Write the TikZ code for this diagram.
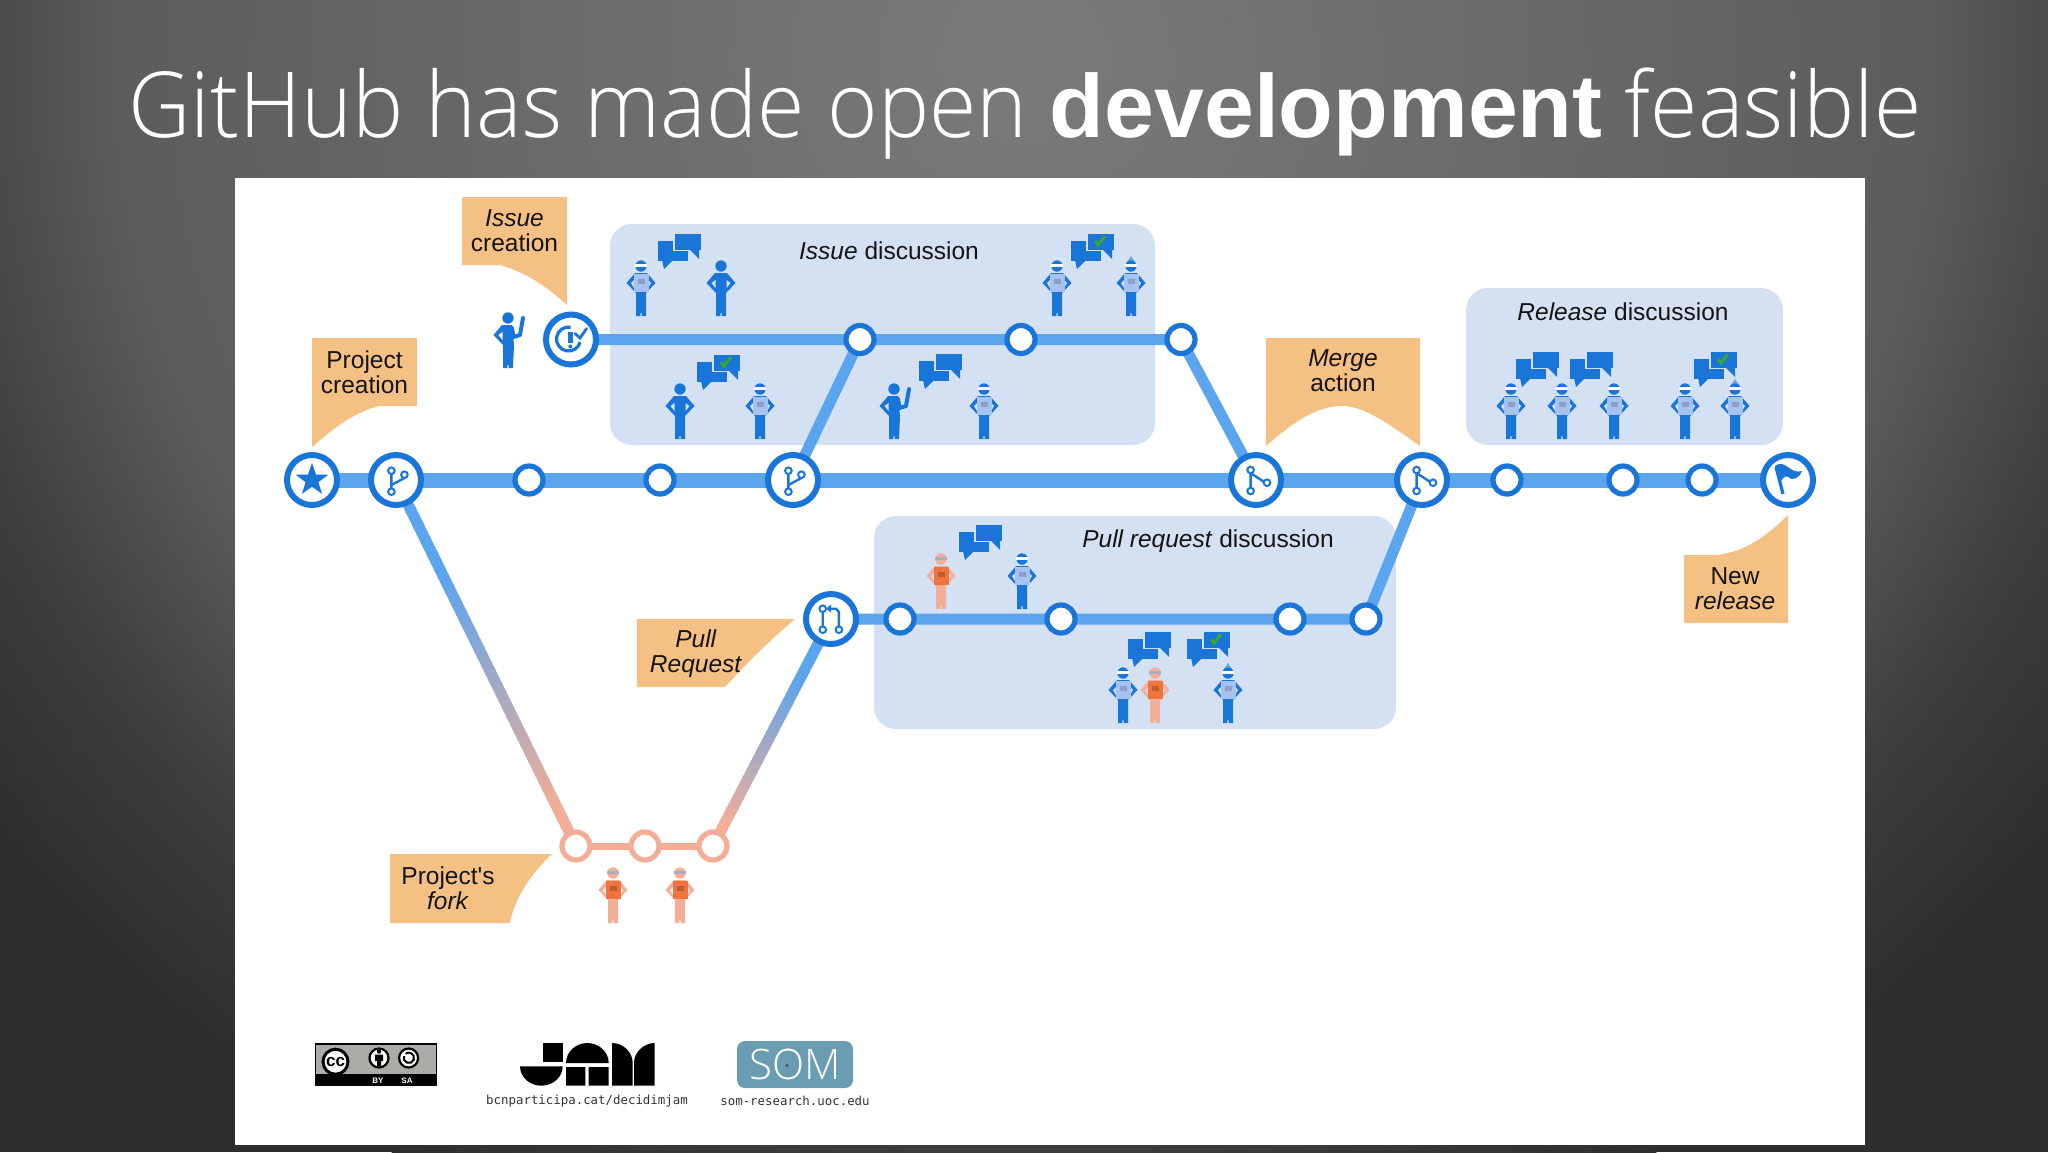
\documentclass[tikz,border=0pt]{standalone}
\usepackage{fontspec}
\setmainfont{Liberation Sans}[Ligatures=TeXOff]
\newfontfamily\lightfont{Open Sans Light}
\newfontfamily\titlelight{Open Sans Light}[FakeStretch=0.947]
\newfontfamily\titlebold{Liberation Sans Bold}
\setmonofont{DejaVu Sans Mono}
\usetikzlibrary{calc,shapes.geometric}
\pgfdeclarelayer{under}\pgfdeclarelayer{lines}\pgfsetlayers{under,lines,main}
\definecolor{ringblue}{HTML}{1976D8}
\definecolor{lineblue}{HTML}{5BA4EE}
\definecolor{salmon}{HTML}{F4AE97}
\definecolor{boxfill}{HTML}{D4E1F3}
\definecolor{calloutc}{HTML}{F5C083}
\definecolor{okgreen}{HTML}{3DA62E}
\definecolor{vestblue}{HTML}{A6C2F0}
\definecolor{vestmark}{HTML}{8C9FC8}
\definecolor{vestorange}{HTML}{EE7440}
\definecolor{orangemark}{HTML}{BE5C30}
\definecolor{ccgrey}{HTML}{AAACA7}
\definecolor{somteal}{HTML}{6A9DB2}
\colorlet{limbc}{ringblue}\colorlet{torsoc}{white}\colorlet{headc}{ringblue}\colorlet{gogc}{white}\colorlet{gapc}{boxfill}\colorlet{markc}{gray}
\pgfdeclareradialshading{slidebg}{\pgfpointorigin}{rgb(0bp)=(.48,.48,.48);rgb(17.5bp)=(.36,.36,.36);rgb(21.5bp)=(.24,.24,.24);rgb(25bp)=(.18,.18,.18);rgb(50bp)=(.18,.18,.18)}
\tikzset{
 bigring/.style={circle,draw=ringblue,fill=white,line width=3pt,minimum size=25pt,inner sep=0pt},
 smallring/.style={circle,draw=ringblue,fill=white,line width=2.6pt,minimum size=14pt,inner sep=0pt},
 forkring/.style={circle,draw=salmon,fill=white,line width=2.6pt,minimum size=14pt,inner sep=0pt},
 mainline/.style={draw=lineblue,line width=7.5pt},
 subline/.style={draw=lineblue,line width=5.5pt},
 forkline/.style={draw=salmon,line width=3.5pt},
 discbox/.style={fill=boxfill,rounded corners=11pt,inner sep=0pt},
 calloutfill/.style={fill=calloutc},
 label/.style={font=\fontsize{12.25pt}{12.6pt}\selectfont,align=center,text=black!92,inner sep=0pt},
 monolabel/.style={font=\ttfamily\fontsize{6.2pt}{7pt}\selectfont,text=black!80,inner sep=0pt},
 icon/.style={draw=ringblue,line width=1.2pt,line cap=round},
 bluebot/.code={\colorlet{limbc}{ringblue}\colorlet{torsoc}{vestblue}\colorlet{headc}{ringblue}\colorlet{gogc}{white}\colorlet{gapc}{boxfill}\colorlet{markc}{vestmark}},
 orangebot/.code={\colorlet{limbc}{salmon}\colorlet{torsoc}{vestorange}\colorlet{headc}{salmon}\colorlet{gogc}{gray!50!boxfill}\colorlet{gapc}{boxfill}\colorlet{markc}{orangemark}},
 onwhite/.code={\colorlet{gapc}{white}},
 bodyfig/.pic={
  \fill[limbc] (-6,-43)--(6,-43)--(14.5,-33)--(5,-23)--(5,0)--(.7,0)--(.7,-3)--(-.7,-3)--(-.7,0)--(-5,0)--(-5,-23)--(-14.5,-33)--cycle;
  \fill[gapc] (-5.5,-36)--(-9.5,-33)--(-5.5,-28)--cycle (5.5,-36)--(9.5,-33)--(5.5,-28)--cycle;
  \fill[limbc] (0,-50) circle (5.7);
 },
 bot/.pic={
  \fill[limbc] (-6,-43)--(6,-43)--(14.5,-33)--(5,-23)--(5,0)--(.7,0)--(.7,-3)--(-.7,-3)--(-.7,0)--(-5,0)--(-5,-23)--(-14.5,-33)--cycle;
  \fill[gapc] (-7,-36)--(-10,-33)--(-7,-28)--cycle (7,-36)--(10,-33)--(7,-28)--cycle;
  \fill[torsoc] (-7.5,-42) rectangle (7.5,-24);
  \fill[markc] (-3.5,-37) rectangle (3.5,-32);
  \fill[headc] (0,-50) circle (5.7);
  \fill[gogc] (-5.6,-52) rectangle (5.6,-48.8);
 },
 hatbot/.pic={
  \fill[ringblue!55!boxfill] (-4,-54)--(0,-60)--(4,-54)--cycle;
  \pic {bot};
 },
 pointer/.pic={
  \fill[ringblue] (-6,-43)--(4,-43)--(6,-23)--(5,0)--(.7,0)--(.7,-3)--(-.7,-3)--(-.7,0)--(-5,0)--(-5,-23)--(-14.5,-33)--cycle;
  \fill[gapc] (-5.5,-36)--(-9.5,-33)--(-5.5,-28)--cycle;
  \draw[ringblue,line width=2pt,line join=round,line cap=round] (4,-40)--(5.5,-31)--(12,-33)--(15,-50);
  \fill[ringblue] (0,-50) circle (5.7);
 },
 talk/.pic={
  \fill[ringblue] (0,8.3) rectangle (29.5,28.3);
  \fill[ringblue] (4,27)--(6,36)--(15,27)--cycle;
  \draw[boxfill,line width=.8pt,fill=ringblue] (15.7,0) rectangle (44,17.3);
  \fill[ringblue] (32,17)--(41,26)--(41,17)--cycle;
 },
 talkok/.pic={
  \pic {talk};
  \draw[okgreen,line width=1.5pt] (24,8)--(27,12)--(34,3);
 },
 forkglyph/.pic={
  \draw[icon] (-4.6,-6)--(-4.6,8.5) (8.4,-2)--(-4.6,5);
  \draw[icon,line width=1pt,fill=white] (-4.6,-9.3) circle (3.3) (8.4,-5.3) circle (3.3) (-4.6,11.7) circle (3.3);
 },
 mergeglyph/.pic={
  \draw[icon] (-5.4,-6.5)--(-5.4,8) (-4,-6)--(8,1.8);
  \draw[icon,line width=1pt,fill=white] (-5.4,-10) circle (3.3) (11,2.7) circle (3.3) (-5.4,11) circle (3.3);
 },
 prglyph/.pic={
  \draw[icon] (-8.3,-7)--(-8.3,7.5) (7.9,7.5)--(7.9,-7)--(5,-10.3)--(-2,-10.3);
  \fill[ringblue] (-5,-10.3)--(0,-14.5)--(0,-6.5)--cycle;
  \draw[icon,line width=1pt,fill=white] (-8.3,-10.3) circle (3.3) (-8.3,10.7) circle (3.3) (7.9,10.7) circle (3.3);
 },
 issueglyph/.pic={
  \draw[icon,line width=1.6pt,line cap=butt] (-.4,-12.3) arc[start angle=-80,end angle=-345,radius=12];
  \draw[ringblue,line width=2.2pt] (-.7,-7.5)--(-.7,3);
  \fill[ringblue] (-.7,7) circle (2);
  \draw[icon,line width=1.4pt] (4,-6)--(9,-1.5)--(15.6,-11);
 },
 flagglyph/.pic={
  \draw[ringblue,line width=1.6pt] (-12,-13)--(-5,14);
  \fill[ringblue] (-13,-14) .. controls (-3,-22) and (2,-5) .. (14,-9) .. controls (11,-1) and (4,1) .. (0,-3) .. controls (-2,-5) and (-6,-2) .. (-8,3) -- cycle;
 },
}
\begin{document}
\begin{tikzpicture}[x=.5pt,y=-.5pt]
\useasboundingbox (0,0) rectangle (2048,1152);
\begin{pgfonlayer}{under}
\begin{scope}
 \clip (0,0) rectangle (2048,1152);
 \fill[black!82] (0,0) rectangle (2048,1152);
 \shade[shading=slidebg] (1024,60) ellipse [x radius=1300,y radius=1250];
\end{scope}
\fill[white] (235,178) rectangle (1865,1145);
\node (issuebox) [discbox,minimum width=272.5pt,minimum height=110.5pt] at (882.5,334.5) {};
\node (releasebox) [discbox,minimum width=158.5pt,minimum height=78.5pt] at (1624.5,366.5) {};
\node (prbox) [discbox,minimum width=261pt,minimum height=106.5pt] at (1135,622.5) {};
\end{pgfonlayer}

\node (title) [text=white,inner sep=0pt,anchor=base,font=\titlelight\fontsize{45.5pt}{50pt}\selectfont] at (1025,137) {GitHub has made open {\titlebold\fontsize{44.8pt}{50pt}\selectfont development} feasible};

% callouts
\fill[calloutfill] (462,197)--(567,197)--(567,305) .. controls (545,285) and (525,272) .. (500,265) -- (462,265) -- cycle;
\fill[calloutfill] (312,338)--(417,338)--(417,406)--(379,406) .. controls (355,412) and (335,427) .. (312,447) -- cycle;
\fill[calloutfill] (1266,338)--(1420,338)--(1420,446) .. controls (1390,425) and (1365,406) .. (1342,406) .. controls (1318,406) and (1295,420) .. (1266,446) -- cycle;
\fill[calloutfill] (1684,555)--(1717,555) .. controls (1745,552) and (1768,535) .. (1788,515) -- (1788,623) -- (1684,623) -- cycle;
\fill[calloutfill] (637,619)--(795,619) .. controls (770,640) and (745,665) .. (725,687) -- (637,687) -- cycle;
\fill[calloutfill] (390,854)--(552,854) .. controls (535,870) and (515,895) .. (510,923) -- (390,923) -- cycle;
\node (lblissue) [label] at (514.5,231) {\textit{Issue}\\creation};
\node (lblproject) [label] at (364.5,372) {Project\\creation};
\node (lblmerge) [label] at (1343,371) {\textit{Merge}\\action};
\node (lblrelease) [label] at (1735,589) {New\\\textit{release}};
\node (lblpr) [label] at (696,654) {\textit{Pull}\\\textit{Request}};
\node (lblfork) [label] at (448,888) {Project's\\\textit{fork}};
\node (issuetitle) [label] at (889,251) {\textit{Issue} discussion};
\node (releasetitle) [label] at (1623,312) {\textit{Release} discussion};
\node (prtitle) [label] at (1208,541) {\textit{Pull request} discussion};

% timeline nodes
\node (nstar) [bigring] at (312,480) {};
\node (nfork) [bigring] at (396,480) {};
\node (m1) [smallring] at (529,480) {};
\node (m2) [smallring] at (660,480) {};
\node (nfork2) [bigring] at (793,480) {};
\node (nmerge) [bigring] at (1256,480) {};
\node (nmerge2) [bigring] at (1422,480) {};
\node (r1) [smallring] at (1507,480) {};
\node (r2) [smallring] at (1623,480) {};
\node (r3) [smallring] at (1702,480) {};
\node (nflag) [bigring] at (1788,480) {};
\node (nissue) [bigring] at (571,339.5) {};
\node (u1) [smallring] at (860,339.5) {};
\node (u2) [smallring] at (1021,339.5) {};
\node (u3) [smallring] at (1181,339.5) {};
\node (npr) [bigring] at (831,619) {};
\node (p1) [smallring] at (900,619) {};
\node (p2) [smallring] at (1061,619) {};
\node (p3) [smallring] at (1290,619) {};
\node (p4) [smallring] at (1366,619) {};
\node (f1) [forkring] at (576,846) {};
\node (f2) [forkring] at (645,846) {};
\node (f3) [forkring] at (713,846) {};

\begin{pgfonlayer}{lines}
 \draw[mainline] (nstar.center)--(nfork.center)--(m1.center)--(m2.center)--(nfork2.center)--(nmerge.center)--(nmerge2.center)--(r1.center)--(r2.center)--(r3.center)--(nflag.center);
 \draw[subline] (nissue.center)--(u1.center)--(u2.center)--(u3.center)--(nmerge.center);
 \draw[subline] (u1.center)--(nfork2.center);
 \draw[subline] (npr.center)--(p1.center)--(p2.center)--(p3.center)--(p4.center)--(nmerge2.center);
 \draw[forkline] (f1.center)--(f2.center)--(f3.center);
 \foreach \i in {0,...,49}{
  \pgfmathsetmacro{\ta}{\i/50}
  \pgfmathsetmacro{\tb}{(\i+1.3)/50}
  \pgfmathsetmacro{\mix}{max(0,min(100,100*(\ta-.25)/.65))}
  \draw[line width=5.5pt,color=salmon!\mix!lineblue] ($(nfork.center)!\ta!(f1.center)$)--($(nfork.center)!\tb!(f1.center)$);
  \draw[line width=5.5pt,color=salmon!\mix!lineblue] ($(f3.center)!1-\ta!(npr.center)$)--($(f3.center)!1-\tb!(npr.center)$);
 }
\end{pgfonlayer}

% node glyphs
\node (starglyph) [star,star points=5,star point ratio=2.5,fill=ringblue,inner sep=0pt,minimum size=17pt] at (nstar.center) {};
\pic at (nfork.center) {forkglyph};
\pic at (nfork2.center) {forkglyph};
\pic at (nmerge.center) {mergeglyph};
\pic at (nmerge2.center) {mergeglyph};
\pic at (npr.center) {prglyph};
\pic at (nissue.center) {issueglyph};
\pic at (nflag.center) {flagglyph};

% people: issue discussion
\pic[bluebot] at (641,316) {bot};
\pic[bluebot] at (721,316) {bodyfig};
\pic at (658,233) {talk};
\pic[onwhite] at (508,368) {pointer};
\pic[bluebot] at (680,439) {bodyfig};
\pic[bluebot] at (760,439) {bot};
\pic at (697,354) {talkok};
\pic[bluebot] at (1057,316) {bot};
\pic[bluebot] at (1131,316) {hatbot};
\pic at (1071,233) {talkok};
\pic at (894,439) {pointer};
\pic[bluebot] at (984,439) {bot};
\pic at (919,353) {talk};
% release discussion
\foreach \px in {1511,1562,1614,1685}{\pic[bluebot] at (\px,439) {bot};}
\pic[bluebot] at (1735,439) {hatbot};
\pic at (1516,351) {talk};
\pic at (1570,351) {talk};
\pic at (1694,351) {talkok};
% pull request discussion
\pic[orangebot] at (941,609) {bot};
\pic[bluebot] at (1022,609) {bot};
\pic at (959,524) {talk};
\pic[bluebot] at (1123,723) {bot};
\pic[orangebot] at (1155,723) {bot};
\pic[bluebot] at (1228,723) {hatbot};
\pic at (1128,631) {talk};
\pic at (1187,631) {talkok};
% fork
\pic[orangebot,onwhite] at (613,923) {bot};
\pic[orangebot,onwhite] at (680,923) {bot};

% CC badge
\fill[black] (314.5,1043) rectangle (437,1086);
\fill[ccgrey] (316,1044.5) rectangle (435.5,1074);
\node (ccmark) [circle,draw=black,fill=white,line width=1.5pt,minimum size=12.5pt,inner sep=0pt,font=\bfseries\fontsize{8.5pt}{9pt}\selectfont] at (335.5,1061.7) {cc};
\node (byring) [circle,draw=black,fill=white,line width=1.1pt,minimum size=9.5pt,inner sep=0pt] at (379,1058) {};
\fill[black] (379,1051.5) circle (2.2) (375,1054.5) rectangle (383,1061) (377,1061) rectangle (381,1066);
\node (saring) [circle,draw=black,fill=white,line width=1.1pt,minimum size=9.5pt,inner sep=0pt] at (408.6,1058) {};
\draw[black,line width=1pt] (404,1056) arc[start angle=200,end angle=-130,radius=5.2];
\node (bytext) [text=white,font=\bfseries\fontsize{4pt}{4pt}\selectfont,inner sep=0pt] at (378,1080.5) {BY};
\node (satext) [text=white,font=\bfseries\fontsize{4pt}{4pt}\selectfont,inner sep=0pt] at (407,1080.5) {SA};

% JAM logo
\fill[black] (542.7,1043) rectangle (562.7,1062.3);
\fill[black] (520,1066.3)--(562.7,1066.3) .. controls (562.7,1077) and (553,1085.7) .. (541.3,1085.7) .. controls (529.6,1085.7) and (520,1077) .. (520,1066.3) -- cycle;
\fill[black] (566,1063) .. controls (566,1052) and (575.5,1043) .. (587.3,1043) .. controls (599,1043) and (608.7,1052) .. (608.7,1063) -- cycle;
\fill[black] (566,1067) rectangle (585.3,1085.7) (588.7,1067) rectangle (608.7,1085.7);
\fill[black] (612,1043) .. controls (623,1043) and (632.7,1052) .. (632.7,1063) -- (632.7,1085.7) -- (612,1085.7) -- cycle;
\fill[black] (654.7,1043) .. controls (644,1043) and (634,1052) .. (634,1063) -- (634,1085.7) -- (654.7,1085.7) -- cycle;
\node (jamurl) [monolabel] at (587,1101) {bcnparticipa.cat/decidimjam};

% SOM logo
\node (somlogo) [fill=somteal,rounded corners=4pt,minimum width=58pt,minimum height=23.5pt,inner sep=0pt,text=white,font=\lightfont\fontsize{21pt}{22pt}\selectfont] at (795,1064.5) {SOM};
\fill[black!70] (787,1065.5) circle (1.6);
\node (somurl) [monolabel] at (795,1101) {som-research.uoc.edu};
\end{tikzpicture}
\end{document}
